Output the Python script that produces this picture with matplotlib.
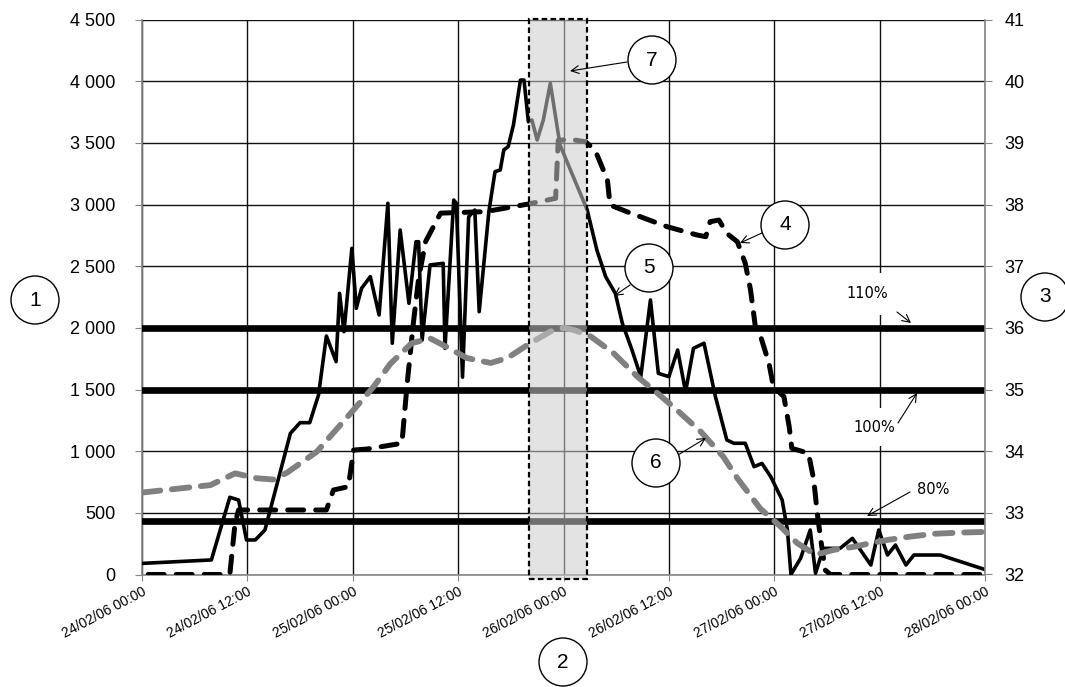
import numpy as np
import pandas as pd
import matplotlib
matplotlib.use('Agg')
import matplotlib.pyplot as plt
import matplotlib.dates as mdates
import matplotlib.transforms as mtransforms
from matplotlib.patches import Rectangle, Ellipse, FancyArrowPatch
from matplotlib.ticker import FuncFormatter, MultipleLocator

plt.rcParams['font.family'] = ['Liberation Sans', 'DejaVu Sans']

start = pd.Timestamp('2006-02-24 00:00')

# series 5 - solid black, left axis (hours after start, value)
h5 = [0.0, 7.9, 10.0, 11.0, 11.9, 12.9, 14.0, 15.7, 16.9, 18.0, 19.1, 20.1, 21.0, 22.1,
      22.5, 23.0, 23.9, 24.4, 25.0, 26.0, 27.0, 28.0, 28.5, 29.4, 30.4, 31.2, 31.5, 31.9,
      32.8, 34.3, 34.5, 35.5, 35.8, 36.5, 37.2, 37.9, 38.4, 39.5, 40.2, 40.8, 41.2, 41.7,
      42.3, 43.1, 43.5, 44.0, 44.4, 45.0, 45.7, 46.5, 47.6, 50.7, 51.8, 52.8, 53.9, 54.7,
      55.8, 56.8, 57.9, 58.8, 60.0, 61.0, 61.9, 62.8, 64.0, 65.3, 66.6, 67.4, 68.7, 69.7,
      70.6, 71.6, 72.9, 73.5, 73.9, 75.0, 76.1, 76.7, 77.6, 79.5, 80.9, 83.0, 83.9, 84.9,
      85.8, 87.0, 87.9, 90.9, 96.0]
v5 = [90, 118, 626, 604, 280, 280, 361, 820, 1145, 1231, 1231, 1455, 1934, 1726,
      2280, 1969, 2645, 2158, 2320, 2415, 2104, 3010, 1875, 2793, 2199, 2698, 2698, 1901,
      2510, 2523, 1834, 3036, 3010, 1600, 2900, 2955, 2131, 2942, 3266, 3280, 3442, 3469,
      3645, 4009, 4009, 3671, 3685, 3523, 3685, 3982, 3483, 2955, 2631, 2415, 2280, 2037,
      1820, 1604, 2226, 1631, 1604, 1820, 1482, 1834, 1875, 1442, 1091, 1064, 1064, 874,
      901, 793, 604, 361, 0, 131, 361, 10, 212, 212, 293, 77, 361, 158,
      239, 77, 158, 158, 40]

# series 4 - black dashed, left axis
h4 = [0.7, 9.5, 10.0, 10.6, 11.0, 21.0, 21.8, 23.5, 24.1, 25.6, 29.6, 30.2, 30.9, 31.5,
      32.3, 34.0, 39.1, 44.0, 47.1, 47.4, 48.8, 50.5, 51.6, 53.0, 53.3, 55.2, 59.8, 63.2,
      64.2, 64.7, 65.7, 66.6, 67.8, 68.7, 69.3, 69.9, 70.4, 71.4, 71.9, 73.1, 73.7, 74.0,
      75.9, 76.5, 76.9, 77.3, 77.8, 78.4, 96.0]
v4 = [0, 0, 0, 417, 523, 523, 685, 712, 1009, 1017, 1064, 1550, 2037, 2400,
      2700, 2930, 2942, 3004, 3050, 3520, 3528, 3509, 3440, 3200, 2996, 2942, 2820, 2753,
      2739, 2861, 2874, 2766, 2698, 2523, 2307, 1982, 1942, 1712, 1523, 1442, 1199, 1023,
      983, 766, 496, 280, 36, 0, 0]

# series 6 - grey dashed, right axis
h6 = [0.1, 7.8, 10.6, 13.1, 15.0, 16.5, 19.9, 24.1, 26.4, 28.3, 30.7, 32.8, 34.7, 37.0,
      39.7, 41.6, 44.2, 46.5, 48.0, 49.3, 51.1, 53.7, 56.4, 58.7, 60.9, 63.6, 66.2, 67.8,
      70.4, 72.7, 74.6, 76.7, 78.8, 81.1, 83.0, 84.9, 87.2, 90.2, 93.2, 96.0]
v6 = [33.33, 33.45, 33.64, 33.56, 33.54, 33.65, 33.99, 34.67, 35.05, 35.42, 35.75, 35.83,
      35.69, 35.51, 35.43, 35.51, 35.75, 35.94, 36.0, 35.96, 35.86, 35.59, 35.21, 34.94,
      34.67, 34.32, 33.91, 33.56, 33.07, 32.78, 32.51, 32.32, 32.40, 32.45, 32.51, 32.56,
      32.61, 32.66, 32.68, 32.69]

# threshold lines (left axis)
levels = [2000, 1500, 435]
level_labels = ['110%', '100%', '80%']

# highlighted window
win_start = pd.Timestamp('2006-02-25 20:05')
win_end = pd.Timestamp('2006-02-26 02:40')


def tt(hours):
    return start + pd.to_timedelta(np.asarray(hours), unit='h')


W, H = 1065, 687
fig = plt.figure(figsize=(W / 100, H / 100), dpi=100)
ax = fig.add_axes([142 / W, (H - 574.5) / H, 843 / W, 555 / H])
ax2 = ax.twinx()

grey = '#868686'

ax.set_xlim(start, start + pd.Timedelta(days=4))
ax.set_ylim(0, 4500)
ax2.set_ylim(32, 41)

ax.yaxis.set_major_locator(MultipleLocator(500))
ax.yaxis.set_major_formatter(FuncFormatter(lambda v, p: f'{int(v):,}'.replace(',', ' ')))
ax2.yaxis.set_major_locator(MultipleLocator(1))
ax.xaxis.set_major_locator(mdates.HourLocator(byhour=[0, 12]))
ax.xaxis.set_major_formatter(mdates.DateFormatter('%d/%m/%y %H:%M'))

ax.grid(True, color='#111111', lw=1.0)
ax.set_axisbelow(True)

for s in ['top', 'right']:
    ax.spines[s].set_visible(False)
for s in ['left', 'bottom']:
    ax.spines[s].set_color(grey)
    ax.spines[s].set_linewidth(1.2)
for s in ['top', 'left', 'bottom']:
    ax2.spines[s].set_visible(False)
ax2.spines['right'].set_color(grey)
ax2.spines['right'].set_linewidth(1.2)

ax.tick_params(axis='y', direction='out', length=5, color=grey, labelsize=13, pad=14)
ax.tick_params(axis='x', direction='out', length=4, color=grey, labelsize=10, pad=3,
               labelrotation=28)
ax2.tick_params(axis='y', direction='out', length=5, color=grey, labelsize=13, pad=9)
plt.setp(ax.get_xticklabels(), ha='right', va='top', rotation_mode='anchor')

for lv in levels:
    ax.axhline(lv, color='black', lw=4.8, zorder=3)

ax.plot(tt(h4), v4, color='black', lw=3.6, dashes=(3.2, 2.4),
        dash_capstyle='round', zorder=4)
ax.plot(tt(h5), v5, color='black', lw=2.6, zorder=5)
ax2.plot(tt(h6), v6, color='#808080', lw=4.2, dashes=(3.0, 2.0),
         dash_capstyle='round', zorder=4)

# shaded window, on top so lines inside look greyed
x0 = mdates.date2num(win_start)
x1 = mdates.date2num(win_end)
blend = mtransforms.blended_transform_factory(ax2.transData, ax2.transAxes)
ax2.add_patch(Rectangle((x0, -0.008), x1 - x0, 1.008, transform=blend,
                        facecolor=(0.8, 0.8, 0.8, 0.55), edgecolor='none',
                        clip_on=False, zorder=10))
ax2.add_patch(Rectangle((x0, -0.008), x1 - x0, 1.008, transform=blend,
                        facecolor='none', edgecolor='black', lw=1.6,
                        linestyle=(0, (2.5, 1.5)), clip_on=False, zorder=11))

# circled numbers (image pixel coords)
circles = [('1', 35, 300), ('2', 563, 662), ('3', 1045, 297), ('4', 785, 225),
           ('5', 649, 268), ('6', 656, 463), ('7', 652, 60)]
for txt, cx, cy in circles:
    fig.add_artist(Ellipse((cx / W, 1 - cy / H), 48 / W, 48 / H,
                           transform=fig.transFigure, facecolor='white',
                           edgecolor='black', lw=1.0, zorder=20))
    fig.text(cx / W, 1 - cy / H, txt, ha='center', va='center', fontsize=15, zorder=21)

# pointer arrows: (tail, head) in image pixels
arrows = [((762, 233), (740, 243)), ((630, 285), (614, 296)),
          ((678, 455), (706, 438)), ((627, 62), (570, 71)),
          ((897, 312), (911, 323)), ((898, 423), (917, 393)),
          ((910, 492), (867, 516))]
for (xa, ya), (xb, yb) in arrows:
    fig.add_artist(FancyArrowPatch(
        (xa / W, 1 - ya / H), (xb / W, 1 - yb / H), transform=fig.transFigure,
        arrowstyle='->,head_length=0.55,head_width=0.28', mutation_scale=10,
        color='black', lw=0.8, shrinkA=0, shrinkB=0, zorder=19))

label_pos = [(867, 294, 0.9), (874, 427, 0.8), (933, 490, 0.3)]
for lab, (lx, ly, pad) in zip(level_labels, label_pos):
    fig.text(lx / W, 1 - ly / H, lab, ha='center', va='center', fontsize=10.5,
             family='DejaVu Sans', zorder=18,
             bbox=dict(boxstyle=f'square,pad={pad}', facecolor='white', edgecolor='none'))

fig.savefig('out.png', dpi=100)
